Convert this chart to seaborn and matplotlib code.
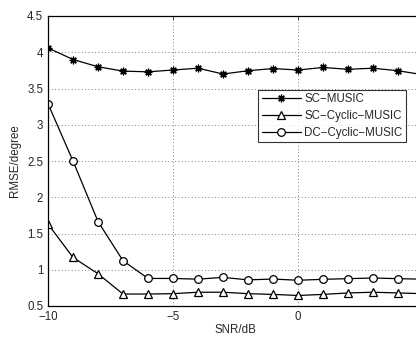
import numpy as np
import pandas as pd
import matplotlib
matplotlib.use("Agg")
import matplotlib.pyplot as plt
import seaborn as sns

# --- data ---
snr = [-10, -9, -8, -7, -6, -5, -4, -3, -2, -1, 0, 1, 2, 3, 4, 5]
sc_music = [4.06, 3.90, 3.80, 3.74, 3.73, 3.755, 3.78, 3.70, 3.745, 3.775,
            3.755, 3.79, 3.765, 3.78, 3.745, 3.69]
sc_cyclic = [1.63, 1.17, 0.945, 0.665, 0.665, 0.67, 0.69, 0.69, 0.67, 0.66,
             0.645, 0.66, 0.68, 0.69, 0.68, 0.67]
dc_cyclic = [3.29, 2.50, 1.665, 1.125, 0.88, 0.88, 0.87, 0.895, 0.86, 0.872,
             0.855, 0.868, 0.877, 0.886, 0.877, 0.87]
names = ["SC\u2212MUSIC", "SC\u2212Cyclic\u2212MUSIC", "DC\u2212Cyclic\u2212MUSIC"]
markers = [(8, 2, 0), "^", "o"]

df = pd.DataFrame({"snr": snr * 3,
                   "rmse": sc_music + sc_cyclic + dc_cyclic,
                   "method": [n for n in names for _ in snr]})

sns.set_style("white")
plt.rcParams['font.family'] = ['Liberation Sans', 'DejaVu Sans']
fs = 8.3

fig = plt.figure(figsize=(4.16, 3.4), dpi=100)
# axes wider than the figure: the reference is cropped on the right
ax = fig.add_axes([48 / 416, 34 / 340, 500 / 416, 290 / 340])

for name, mk in zip(names, markers):
    sub = df[df["method"] == name]
    sns.lineplot(data=sub, x="snr", y="rmse", ax=ax, color="black", lw=0.9,
                 marker=mk, markersize=5.5,
                 markerfacecolor="white",
                 markeredgecolor="black", markeredgewidth=0.9, label=name)

ax.set_xlim(-10, 10)
ax.set_ylim(0.5, 4.5)
ax.set_xticks([-10, -5, 0])
ax.set_xticklabels(["\u221210", "\u22125", "0"])
ax.set_yticks(np.arange(0.5, 4.51, 0.5))
ax.set_yticklabels(["0.5", "1", "1.5", "2", "2.5", "3", "3.5", "4", "4.5"])
ax.grid(True, ls=(0, (1, 3)), color="#555555", lw=0.6)
ax.tick_params(direction="in", top=True, right=True, length=3, width=0.6,
               labelsize=fs, pad=3.5)
for s in ax.spines.values():
    s.set_color("black")
    s.set_linewidth(0.9)

ax.set_xlabel("SNR/dB", fontsize=fs)
ax.set_ylabel("RMSE/degree", fontsize=fs)
ax.xaxis.set_label_coords((235 - 48) / 500, -18 / 290)
ax.yaxis.set_label_coords(-27 / 500, 0.5)

leg = ax.legend(loc="upper right", bbox_to_anchor=(406 / 416, 250 / 340),
                bbox_transform=fig.transFigure, fontsize=fs, frameon=True,
                fancybox=False, borderpad=0.3, labelspacing=0.4,
                handlelength=3.4, handletextpad=0.3, borderaxespad=0)
leg.get_frame().set_edgecolor("black")
leg.get_frame().set_linewidth(0.8)

fig.savefig("out.png", dpi=100)
